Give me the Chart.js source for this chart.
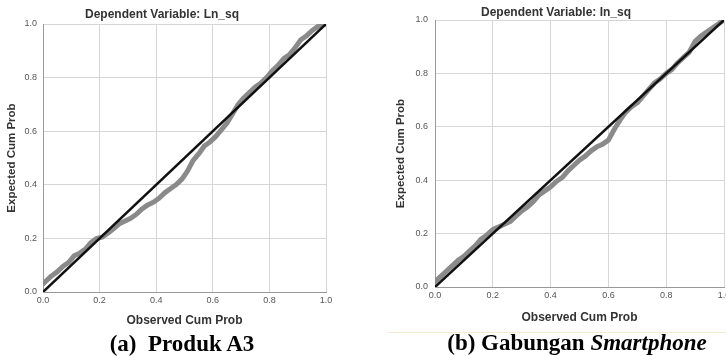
<!DOCTYPE html>
<html>
<head>
<meta charset="utf-8">
<script src="https://cdn.jsdelivr.net/npm/chart.js@4.4.1/dist/chart.umd.min.js"></script>
<style>
  html, body { margin: 0; padding: 0; background: #fff; width: 726px; height: 356px; overflow: hidden; position: relative; }
  canvas { position: absolute; top: 0; }
  .ttl { position: absolute; font: bold 12px "Liberation Sans", Arial, sans-serif; color: #333; white-space: nowrap; transform: translate(-50%, -50%); line-height: 14px; }
  .cap { position: absolute; font: bold 23px "Liberation Serif", "Times New Roman", serif; color: #000; white-space: nowrap; transform: translateX(-50%); line-height: 23px; }
  .rule { position: absolute; left: 388px; top: 332px; width: 340px; height: 1px; background: #f2ead2; }
</style>
</head>
<body>
<canvas id="cA" width="363" height="356" style="left:0px"></canvas>
<canvas id="cB" width="400" height="356" style="left:363px"></canvas>
<div class="ttl" style="left:162px; top:14px">Dependent Variable: Ln_sq</div>
<div class="ttl" style="left:556px; top:12px">Dependent Variable: In_sq</div>
<div class="rule"></div>
<div class="cap" style="left:182px; top:332px">(a)&nbsp; Produk A3</div>
<div class="cap" style="left:577px; top:331px">(b) Gabungan <i>Smartphone</i></div>
<script>
// ---- data ----
const tickLabels = ['0.0', '0.2', '0.4', '0.6', '0.8', '1.0'];
const refLine = [0, 1];

const obsA = [0, 0.01, 0.03, 0.05, 0.07, 0.09, 0.11, 0.13, 0.15, 0.17, 0.19, 0.21, 0.23, 0.25, 0.27, 0.29, 0.31, 0.33, 0.35, 0.37, 0.39, 0.41, 0.43, 0.45, 0.47, 0.49, 0.51, 0.53, 0.55, 0.57, 0.59, 0.61, 0.63, 0.65, 0.67, 0.69, 0.71, 0.73, 0.75, 0.77, 0.79, 0.81, 0.83, 0.85, 0.87, 0.89, 0.91, 0.93, 0.95, 0.97, 0.99, 1.0];
const expA = [0.03, 0.04, 0.06, 0.075, 0.095, 0.11, 0.135, 0.145, 0.16, 0.185, 0.20, 0.205, 0.22, 0.237, 0.255, 0.265, 0.275, 0.29, 0.31, 0.325, 0.335, 0.35, 0.37, 0.385, 0.40, 0.42, 0.45, 0.49, 0.515, 0.545, 0.56, 0.58, 0.605, 0.63, 0.665, 0.70, 0.725, 0.745, 0.765, 0.78, 0.80, 0.825, 0.845, 0.87, 0.885, 0.91, 0.94, 0.955, 0.975, 0.99, 0.998, 1.0];

const obsB = [0, 0.02, 0.04, 0.06, 0.08, 0.10, 0.12, 0.14, 0.16, 0.18, 0.20, 0.22, 0.24, 0.26, 0.28, 0.30, 0.32, 0.34, 0.36, 0.38, 0.40, 0.42, 0.44, 0.46, 0.48, 0.50, 0.52, 0.54, 0.56, 0.58, 0.60, 0.62, 0.64, 0.66, 0.68, 0.70, 0.72, 0.74, 0.76, 0.78, 0.80, 0.82, 0.84, 0.86, 0.88, 0.90, 0.92, 0.94, 0.96, 0.98, 1.0];
const expB = [0.02, 0.04, 0.06, 0.08, 0.10, 0.115, 0.135, 0.155, 0.18, 0.195, 0.215, 0.225, 0.235, 0.245, 0.265, 0.285, 0.30, 0.32, 0.345, 0.36, 0.375, 0.395, 0.41, 0.435, 0.455, 0.475, 0.49, 0.51, 0.525, 0.535, 0.55, 0.59, 0.625, 0.655, 0.675, 0.69, 0.715, 0.74, 0.765, 0.78, 0.80, 0.815, 0.84, 0.86, 0.88, 0.92, 0.94, 0.955, 0.97, 0.985, 1.0];

function makeChart(id, obs, exp, L) {
  const pts = obs.map((x, i) => ({ x: x, y: exp[i] }));
  const diag = refLine.map(v => ({ x: v, y: v }));
  const tickFont = { family: '"Liberation Sans", Arial, sans-serif', size: 9 };
  return new Chart(document.getElementById(id), {
    type: 'scatter',
    data: {
      datasets: [
        { data: diag, showLine: true, borderColor: '#111', borderWidth: 2.5, pointRadius: 0, fill: false },
        { data: pts, showLine: true, borderColor: '#8a8a8a', borderWidth: 5, pointRadius: 0, tension: 0, fill: false,
          borderJoinStyle: 'round', borderCapStyle: 'round' }
      ]
    },
    options: {
      responsive: false, animation: false,
      layout: { autoPadding: false, padding: { top: L.top, right: L.right, left: 0, bottom: 0 } },
      plugins: { legend: { display: false }, tooltip: { enabled: false }, title: { display: false } },
      scales: {
        x: {
          type: 'linear', min: 0, max: 1,
          afterFit: s => { s.height = L.xh; },
          ticks: { stepSize: 0.2, padding: 3, color: '#555', font: tickFont, maxRotation: 0,
                   callback: (v) => tickLabels[Math.round(v * 5)] },
          grid: { color: '#d6d6d6', lineWidth: 1, drawTicks: false },
          border: { color: '#999', width: 1 },
          title: { display: true, text: 'Observed Cum Prob', color: '#333',
                   font: { family: '"Liberation Sans", Arial, sans-serif', size: 12, weight: 'bold', lineHeight: 1.2 },
                   padding: { top: 0, bottom: L.xtPad } }
        },
        y: {
          type: 'linear', min: 0, max: 1,
          afterFit: s => { s.width = L.yw; },
          ticks: { stepSize: 0.2, padding: L.ytickPad, color: '#555', font: tickFont,
                   callback: (v) => tickLabels[Math.round(v * 5)] },
          grid: { color: '#d6d6d6', lineWidth: 1, drawTicks: false },
          border: { color: '#999', width: 1 },
          title: { display: true, text: 'Expected Cum Prob', color: '#333',
                   font: { family: '"Liberation Sans", Arial, sans-serif', size: 11.5, weight: 'bold', lineHeight: 1.2 },
                   padding: { top: L.ytPad, bottom: 0 } }
        }
      }
    }
  });
}

makeChart('cA', obsA, expA, { top: 24, right: 37, xh: 64, yw: 43, xtPad: 28, ytPad: 5, ytickPad: 6 });
makeChart('cB', obsB, expB, { top: 20, right: 39, xh: 69, yw: 72, xtPad: 31, ytPad: 31, ytickPad: 7 });
</script>
</body>
</html>
